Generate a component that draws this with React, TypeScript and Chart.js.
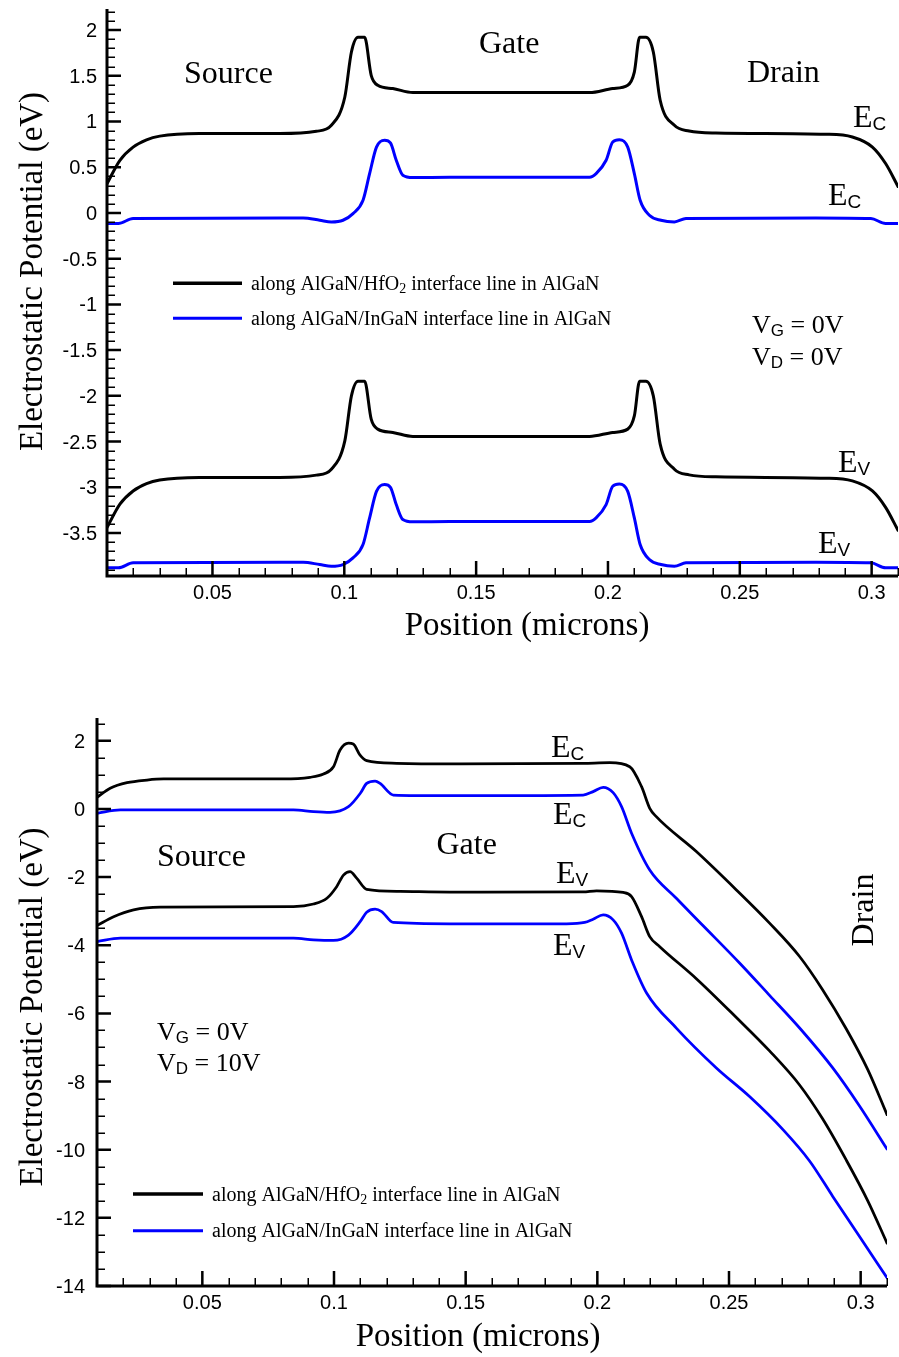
import React, { useEffect, useRef } from 'react';
import { Chart, registerables } from 'chart.js';

Chart.register(...registerables);

// ---------------- DATA ----------------
// Top chart: VG = 0V, VD = 0V
const topEcHfX = [0.01, 0.0149, 0.0199, 0.025, 0.03, 0.045, 0.0755, 0.0894, 0.0951, 0.1002, 0.1027, 0.1052, 0.1077, 0.1102, 0.1127, 0.1184, 0.126, 0.14, 0.193, 0.2018, 0.2075, 0.21, 0.212, 0.2144, 0.2172, 0.2198, 0.2252, 0.2308, 0.2409, 0.2826, 0.2927, 0.3003, 0.3053, 0.31];
const topEcHfY = [0.32, 0.576, 0.72, 0.8, 0.84, 0.868, 0.868, 0.893, 0.958, 1.268, 1.76, 1.92, 1.92, 1.505, 1.396, 1.36, 1.316, 1.316, 1.316, 1.36, 1.396, 1.54, 1.92, 1.92, 1.76, 1.232, 0.958, 0.896, 0.874, 0.86, 0.83, 0.72, 0.54, 0.29];
const topEvHfY = [-3.44, -3.184, -3.04, -2.96, -2.92, -2.892, -2.892, -2.867, -2.802, -2.492, -2.0, -1.84, -1.84, -2.255, -2.364, -2.4, -2.444, -2.444, -2.444, -2.4, -2.364, -2.22, -1.84, -1.84, -2.0, -2.528, -2.802, -2.864, -2.886, -2.9, -2.93, -3.04, -3.22, -3.47];

const topEcInX = [0.01, 0.0143, 0.0199, 0.0844, 0.0907, 0.0951, 0.0995, 0.1033, 0.1071, 0.1096, 0.1122, 0.1153, 0.1175, 0.1197, 0.1222, 0.126, 0.14, 0.193, 0.1955, 0.1993, 0.2018, 0.2043, 0.2075, 0.21, 0.2122, 0.2157, 0.2201, 0.2252, 0.2296, 0.2788, 0.2997, 0.3053, 0.31];
const topEcInY = [-0.116, -0.116, -0.061, -0.055, -0.08, -0.098, -0.08, -0.007, 0.139, 0.43, 0.72, 0.795, 0.765, 0.576, 0.412, 0.387, 0.39, 0.39, 0.43, 0.576, 0.776, 0.8, 0.72, 0.43, 0.139, -0.025, -0.08, -0.098, -0.061, -0.055, -0.061, -0.116, -0.116];
const topEvInY = [-3.881, -3.881, -3.826, -3.82, -3.845, -3.863, -3.845, -3.772, -3.626, -3.335, -3.045, -2.97, -3.0, -3.189, -3.353, -3.378, -3.375, -3.375, -3.335, -3.189, -2.989, -2.965, -3.045, -3.335, -3.626, -3.79, -3.845, -3.863, -3.826, -3.82, -3.826, -3.881, -3.881];

// Bottom chart: VG = 0V, VD = 10V
const botEcHfX = [0.01, 0.015, 0.0214, 0.029, 0.0353, 0.0808, 0.0909, 0.096, 0.0998, 0.1023, 0.1055, 0.1073, 0.1099, 0.1124, 0.1238, 0.144, 0.1946, 0.2047, 0.2123, 0.2168, 0.2199, 0.2224, 0.2376, 0.2528, 0.2654, 0.2768, 0.2856, 0.2945, 0.3027, 0.31];
const botEcHfY = [0.343, 0.607, 0.771, 0.85, 0.88, 0.88, 0.93, 1.026, 1.24, 1.73, 1.93, 1.906, 1.58, 1.42, 1.34, 1.32, 1.34, 1.358, 1.24, 0.654, 0.02, -0.226, -1.25, -2.375, -3.35, -4.33, -5.31, -6.45, -7.65, -8.97];

const botEcInX = [0.01, 0.0189, 0.0846, 0.0922, 0.0985, 0.1055, 0.11, 0.1124, 0.1156, 0.1175, 0.1225, 0.144, 0.1946, 0.1984, 0.2022, 0.206, 0.2092, 0.213, 0.2199, 0.23, 0.2401, 0.254, 0.2654, 0.2774, 0.2894, 0.2995, 0.31];
const botEcInY = [-0.127, -0.03, -0.03, -0.078, -0.098, 0.068, 0.46, 0.75, 0.82, 0.75, 0.41, 0.39, 0.41, 0.51, 0.635, 0.48, 0.068, -0.71, -1.79, -2.62, -3.42, -4.52, -5.47, -6.48, -7.6, -8.71, -9.98];

const botEvHfX = [0.01, 0.0163, 0.0239, 0.034, 0.0846, 0.0922, 0.0973, 0.101, 0.1036, 0.1061, 0.1086, 0.1124, 0.1251, 0.144, 0.1946, 0.1997, 0.2098, 0.213, 0.2168, 0.2199, 0.2237, 0.2376, 0.2528, 0.2654, 0.2768, 0.2856, 0.2945, 0.3027, 0.31];
const botEvHfY = [-3.42, -3.16, -2.96, -2.88, -2.865, -2.79, -2.62, -2.28, -1.94, -1.84, -2.03, -2.36, -2.42, -2.44, -2.435, -2.4, -2.45, -2.57, -3.16, -3.745, -4.04, -4.98, -6.12, -7.1, -8.1, -9.1, -10.3, -11.5, -12.74];

const botEvInX = [0.01, 0.0189, 0.0846, 0.0922, 0.0998, 0.1055, 0.11, 0.1124, 0.1156, 0.1181, 0.1225, 0.144, 0.1883, 0.1952, 0.1984, 0.2022, 0.206, 0.2092, 0.213, 0.2187, 0.23, 0.2452, 0.2578, 0.2705, 0.2806, 0.2894, 0.2995, 0.31];
const botEvInY = [-3.89, -3.79, -3.79, -3.84, -3.86, -3.7, -3.3, -3.03, -2.94, -3.01, -3.33, -3.37, -3.37, -3.33, -3.235, -3.11, -3.255, -3.645, -4.43, -5.4, -6.43, -7.6, -8.44, -9.41, -10.33, -11.37, -12.54, -13.76];

// Tick labels
const xTicks = [0.05, 0.1, 0.15, 0.2, 0.25, 0.3];
const xTickLabels = ['0.05', '0.1', '0.15', '0.2', '0.25', '0.3'];
const topYTicks = [2, 1.5, 1, 0.5, 0, -0.5, -1, -1.5, -2, -2.5, -3, -3.5];
const topYTickLabels = ['2', '1.5', '1', '0.5', '0', '-0.5', '-1', '-1.5', '-2', '-2.5', '-3', '-3.5'];
const botYTicks = [2, 0, -2, -4, -6, -8, -10, -12, -14];
const botYTickLabels = ['2', '0', '-2', '-4', '-6', '-8', '-10', '-12', '-14'];

const legendLabels = ['along AlGaN/HfO', 'along AlGaN/InGaN interface line in AlGaN'];

// ---------------- STYLE ----------------
const SERIF = '"Liberation Serif", "Times New Roman", serif';
const SANS = '"Liberation Sans", Arial, sans-serif';
const BLACK = '#000000';
const BLUE = '#0000ff';

type Seg = { t: string; f: string; dy?: number };
type Txt = { segs: Seg[]; x: number; y: number; align?: 'left' | 'center'; rot?: boolean };

const big = (t: string): Seg => ({ t, f: `32px ${SERIF}` });
const title = (t: string): Seg => ({ t, f: `33px ${SERIF}` });
const eLabel = (sub: string): Seg[] => [big('E'), { t: sub, f: `19px ${SANS}`, dy: 3 }];
const vLabel = (sub: string, rest: string): Seg[] => [
  { t: 'V', f: `26px ${SERIF}` },
  { t: sub, f: `17px ${SANS}`, dy: 3 },
  { t: rest, f: `26px ${SERIF}` },
];
const legendSegs1: Seg[] = [
  { t: legendLabels[0], f: `20px ${SERIF}` },
  { t: '2', f: `14px ${SERIF}`, dy: 3 },
  { t: ' interface line in AlGaN', f: `20px ${SERIF}` },
];
const legendSegs2: Seg[] = [{ t: legendLabels[1], f: `20px ${SERIF}` }];

function pts(xs: number[], ys: number[]) {
  return xs.map((x, i) => ({ x, y: ys[i] }));
}

function drawSegs(ctx: CanvasRenderingContext2D, segs: Seg[], x: number, y: number, align: 'left' | 'center') {
  let w = 0;
  for (const s of segs) {
    ctx.font = s.f;
    w += ctx.measureText(s.t).width;
  }
  let cx = align === 'center' ? x - w / 2 : x;
  ctx.textAlign = 'left';
  ctx.textBaseline = 'alphabetic';
  for (const s of segs) {
    ctx.font = s.f;
    ctx.fillText(s.t, cx, y + (s.dy || 0));
    cx += ctx.measureText(s.t).width;
  }
}

type FrameCfg = {
  yTicks: number[];
  yTickLabels: string[];
  yMinorStep: number;
  labelGapY: number;
  texts: Txt[];
  legendY: [number, number];
  legendTextY: [number, number];
  legendX: [number, number, number];
  legendWidths: [number, number];
};

function framePlugin(cfg: FrameCfg) {
  return {
    id: 'frame',
    afterDatasetsDraw(chart: any) {
      const ctx: CanvasRenderingContext2D = chart.ctx;
      const { left, right, top, bottom } = chart.chartArea;
      const xs = chart.scales.x;
      const ys = chart.scales.y;
      ctx.save();
      ctx.fillStyle = BLACK;
      ctx.strokeStyle = BLACK;

      // minor ticks
      ctx.lineWidth = 1.5;
      const k0 = Math.ceil(ys.min / cfg.yMinorStep - 1e-6);
      const k1 = Math.floor(ys.max / cfg.yMinorStep + 1e-6);
      ctx.beginPath();
      for (let k = k0; k <= k1; k++) {
        const v = k * cfg.yMinorStep;
        if (cfg.yTicks.some((t) => Math.abs(t - v) < 1e-6)) continue;
        const py = Math.round(ys.getPixelForValue(v)) + 0.25;
        ctx.moveTo(left, py);
        ctx.lineTo(left + 8, py);
      }
      for (let k = 2; k <= 31; k++) {
        if (k % 5 === 0) continue;
        const px = Math.round(xs.getPixelForValue(k * 0.01)) + 0.25;
        ctx.moveTo(px, bottom);
        ctx.lineTo(px, bottom - 8);
      }
      ctx.stroke();

      // major ticks
      ctx.lineWidth = 2.5;
      ctx.beginPath();
      cfg.yTicks.forEach((v) => {
        const py = ys.getPixelForValue(v);
        ctx.moveTo(left, py);
        ctx.lineTo(left + 14, py);
      });
      xTicks.forEach((v) => {
        const px = xs.getPixelForValue(v);
        ctx.moveTo(px, bottom);
        ctx.lineTo(px, bottom - 15);
      });
      ctx.stroke();

      // axis lines
      ctx.lineWidth = 3;
      ctx.beginPath();
      ctx.moveTo(left, top);
      ctx.lineTo(left, bottom);
      ctx.lineTo(right, bottom);
      ctx.stroke();

      // tick labels
      ctx.font = `20px ${SANS}`;
      ctx.textBaseline = 'alphabetic';
      ctx.textAlign = 'right';
      cfg.yTicks.forEach((v, i) => {
        ctx.fillText(cfg.yTickLabels[i], left - cfg.labelGapY, ys.getPixelForValue(v) + 7);
      });
      ctx.textAlign = 'center';
      xTicks.forEach((v, i) => {
        ctx.fillText(xTickLabels[i], xs.getPixelForValue(v), bottom + 23);
      });

      // legend
      const [lx0, lx1, ltx] = cfg.legendX;
      ctx.lineWidth = cfg.legendWidths[0];
      ctx.strokeStyle = BLACK;
      ctx.beginPath();
      ctx.moveTo(lx0, cfg.legendY[0]);
      ctx.lineTo(lx1, cfg.legendY[0]);
      ctx.stroke();
      ctx.lineWidth = cfg.legendWidths[1];
      ctx.strokeStyle = BLUE;
      ctx.beginPath();
      ctx.moveTo(lx0, cfg.legendY[1]);
      ctx.lineTo(lx1, cfg.legendY[1]);
      ctx.stroke();
      drawSegs(ctx, legendSegs1, ltx, cfg.legendTextY[0], 'left');
      drawSegs(ctx, legendSegs2, ltx, cfg.legendTextY[1], 'left');

      // texts
      cfg.texts.forEach((t) => {
        if (t.rot) {
          ctx.save();
          ctx.translate(t.x, t.y);
          ctx.rotate(-Math.PI / 2);
          drawSegs(ctx, t.segs, 0, 0, 'center');
          ctx.restore();
        } else {
          drawSegs(ctx, t.segs, t.x, t.y, t.align || 'left');
        }
      });
      ctx.restore();
    },
  };
}

const yTitle = 'Electrostatic Potential (eV)';
const xTitle = 'Position (microns)';

function makeConfig(datasets: any[], yMin: number, yMax: number, padding: any, cfg: FrameCfg) {
  return {
    type: 'line' as const,
    data: { datasets },
    options: {
      animation: false as const,
      responsive: false,
      maintainAspectRatio: false,
      events: [],
      layout: { padding },
      plugins: { legend: { display: false }, tooltip: { enabled: false } },
      scales: {
        x: { type: 'linear' as const, min: 0.01, max: 0.31, display: false },
        y: { type: 'linear' as const, min: yMin, max: yMax, display: false },
      },
    },
    plugins: [framePlugin(cfg)],
  };
}

function ds(xs: number[], ys: number[], color: string, w: number) {
  return {
    data: pts(xs, ys),
    borderColor: color,
    borderWidth: w,
    pointRadius: 0,
    fill: false,
    cubicInterpolationMode: 'monotone' as const,
    borderJoinStyle: 'round' as const,
    borderCapStyle: 'round' as const,
  };
}

export default function App() {
  const topRef = useRef<HTMLCanvasElement | null>(null);
  const botRef = useRef<HTMLCanvasElement | null>(null);

  useEffect(() => {
    const topCfg: FrameCfg = {
      yTicks: topYTicks,
      yTickLabels: topYTickLabels,
      yMinorStep: 0.1,
      labelGapY: 10,
      legendY: [283.3, 318.3],
      legendTextY: [290, 325],
      legendX: [173, 242, 251],
      legendWidths: [3.5, 3],
      texts: [
        { segs: [big('Source')], x: 184, y: 83 },
        { segs: [big('Gate')], x: 479, y: 53 },
        { segs: [big('Drain')], x: 747, y: 82 },
        { segs: eLabel('C'), x: 853, y: 127 },
        { segs: eLabel('C'), x: 828, y: 205 },
        { segs: eLabel('V'), x: 838, y: 472 },
        { segs: eLabel('V'), x: 818, y: 553 },
        { segs: vLabel('G', ' = 0V'), x: 752, y: 333 },
        { segs: vLabel('D', ' = 0V'), x: 752, y: 365 },
        { segs: [title(yTitle)], x: 41.5, y: 271.5, rot: true },
        { segs: [title(xTitle)], x: 527, y: 635, align: 'center' },
      ],
    };
    const botCfg: FrameCfg = {
      yTicks: botYTicks,
      yTickLabels: botYTickLabels,
      yMinorStep: 0.5,
      labelGapY: 12,
      legendY: [544, 580.7],
      legendTextY: [550.5, 587],
      legendX: [133, 203, 212],
      legendWidths: [3.5, 3],
      texts: [
        { segs: [big('Source')], x: 157, y: 216 },
        { segs: [big('Gate')], x: 436.5, y: 204 },
        { segs: [big('Drain')], x: 873, y: 260, rot: true },
        { segs: eLabel('C'), x: 551, y: 107 },
        { segs: eLabel('C'), x: 553, y: 174 },
        { segs: eLabel('V'), x: 556, y: 233 },
        { segs: eLabel('V'), x: 553, y: 305 },
        { segs: vLabel('G', ' = 0V'), x: 157, y: 390 },
        { segs: vLabel('D', ' = 10V'), x: 157, y: 421 },
        { segs: [title(yTitle)], x: 41.5, y: 357, rot: true },
        { segs: [title(xTitle)], x: 478, y: 696, align: 'center' },
      ],
    };

    const c1 = new Chart(
      topRef.current as HTMLCanvasElement,
      makeConfig(
        [
          ds(topEcHfX, topEcHfY, BLACK, 3),
          ds(topEcInX, topEcInY, BLUE, 3),
          ds(topEcHfX, topEvHfY, BLACK, 3),
          ds(topEcInX, topEvInY, BLUE, 3),
        ],
        -3.97,
        2.23,
        { left: 107, top: 9, right: 1, bottom: 74 },
        topCfg
      ) as any
    );
    const c2 = new Chart(
      botRef.current as HTMLCanvasElement,
      makeConfig(
        [
          ds(botEcHfX, botEcHfY, BLACK, 2.75),
          ds(botEcInX, botEcInY, BLUE, 2.75),
          ds(botEvHfX, botEvHfY, BLACK, 2.75),
          ds(botEvInX, botEvInY, BLUE, 2.75),
        ],
        -14,
        2.67,
        { left: 97, top: 68, right: 12, bottom: 71 },
        botCfg
      ) as any
    );
    return () => {
      c1.destroy();
      c2.destroy();
    };
  }, []);

  return (
    <div style={{ position: 'absolute', left: 0, top: 0, width: 899, height: 1357, background: '#ffffff', overflow: 'hidden' }}>
      <canvas ref={topRef} width={899} height={650} style={{ position: 'absolute', left: 0, top: 0, width: 899, height: 650 }} />
      <canvas ref={botRef} width={899} height={707} style={{ position: 'absolute', left: 0, top: 650, width: 899, height: 707 }} />
    </div>
  );
}
